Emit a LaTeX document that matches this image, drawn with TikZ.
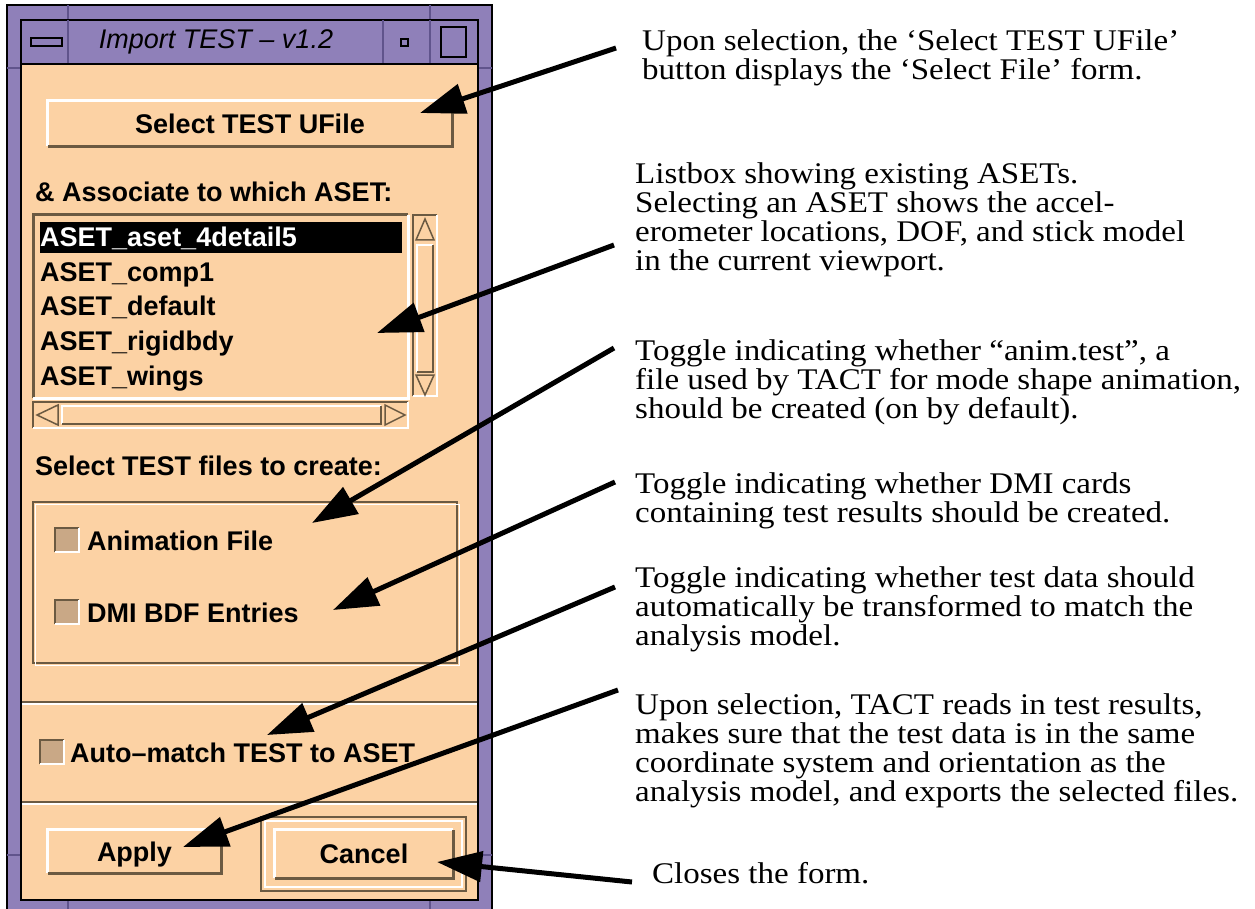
\documentclass[tikz,border=0pt]{standalone}
\usepackage{fontspec}
\setmainfont{Liberation Serif}
\newfontfamily\uifont{Liberation Sans}
\newfontfamily\notefont[FakeStretch=1.1]{Liberation Serif}
\usetikzlibrary{arrows.meta}
\definecolor{peach}{RGB}{252,210,164}
\definecolor{winframe}{RGB}{143,128,185}
\definecolor{frameline}{RGB}{96,84,140}
\definecolor{bevelDark}{RGB}{107,90,66}
\definecolor{boxfill}{RGB}{201,168,134}
\tikzset{
  uitext/.style={font=\uifont\bfseries\fontsize{27}{34}\selectfont, inner sep=0pt, anchor=base west},
  titletext/.style={font=\uifont\itshape\fontsize{27}{34}\selectfont, inner sep=0pt},
  button/.style={font=\uifont\bfseries\fontsize{27}{34}\selectfont, fill=peach, inner sep=0pt, text height=19.5pt, text depth=0pt},
  note/.style={font=\notefont\fontsize{30}{29}\selectfont, align=left, inner sep=0pt, anchor=north west},
  callout/.style={line width=5pt, -{Triangle[length=45pt,width=30pt]}},
}
\begin{document}
\begin{tikzpicture}[x=1pt,y=-1pt]
\useasboundingbox (0,0) rectangle (1255,909);
\fill[white] (0,0) rectangle (1255,909);
% window frame and title bar
\draw[line width=1.5pt, fill=winframe] (7,5) rectangle (492,918);
\draw[frameline, line width=1.5pt] (68,5) -- (68,20) (430,5) -- (430,20) (7,68) -- (21,68) (478,68) -- (492,68) (7,855) -- (21,855) (478,855) -- (492,855) (68,900) -- (68,918) (430,900) -- (430,918);
\draw[line width=1.5pt, fill=winframe] (21,20) rectangle (478,64);
\draw[frameline, line width=1.5pt] (68,20) -- (68,64) (383,20) -- (383,64) (430,20) -- (430,64);
\draw[line width=2pt, fill=winframe] (31,38) rectangle (62,46);
\draw[line width=2pt] (401,39) rectangle (408,46);
\draw[line width=2.5pt] (441,27) rectangle (466,57);
\node[titletext] (title) at (216,42) {Import TEST – v1.2};
\draw[line width=1.5pt, fill=peach] (21,64) rectangle (478,900);
% select button
\node[button, minimum width=404pt, minimum height=45pt] (selBtn) at (250,123.5) {Select TEST UFile};
\node[uitext] (assocLbl) at (35,202) {\& Associate to which ASET:};
% listbox
\draw[bevelDark, line width=3pt] (33,398) |- (408,215);
\draw[white, line width=3pt] (33,398) -| (408,215);
\fill[black] (40,222) rectangle (402,253);
\node[uitext, white] (row0) at (40,247) {ASET\_aset\_4detail5};
\foreach \name [count=\i] in {comp1,default,rigidbdy,wings}
  \node[uitext] (row\i) at (40,247+34.5*\i) {ASET\_\name};
\draw[bevelDark, line width=2pt] (413,396) |- (437,215);
\draw[white, line width=2pt] (413,396) -| (437,215);
\draw[bevelDark, line width=1.5pt, fill=peach] (416,240) -- (425,219) -- (434,240) -- cycle;
\draw[white, line width=2pt] (417,372) |- (433,245);
\draw[bevelDark, line width=2pt] (417,372) -| (433,245);
\draw[bevelDark, line width=1.5pt, fill=peach] (416,375) -- (434,375) -- (425,395) -- cycle;
\draw[bevelDark, line width=2pt] (33,428) |- (408,402);
\draw[white, line width=2pt] (33,428) -| (408,402);
\draw[bevelDark, line width=1.5pt, fill=peach] (58,405) -- (37,415) -- (58,425) -- cycle;
\draw[white, line width=2pt] (62,424) |- (381,406);
\draw[bevelDark, line width=2pt] (62,424) -| (381,406);
\draw[bevelDark, line width=1.5pt, fill=peach] (385,405) -- (405,415) -- (385,425) -- cycle;
% files group
\node[uitext] (filesLbl) at (35,475) {Select TEST files to create:};
\draw[bevelDark, line width=1.5pt] (33,502) rectangle (457,663);
\draw[white, line width=1.5pt] (35.5,504.5) rectangle (459.5,665.5);
\foreach \x/\y in {55/528, 55/600, 40/740} {
  \fill[boxfill] (\x,\y) rectangle ++(24,24);
  \draw[bevelDark, line width=2pt] (\x,\y+24) |- (\x+24,\y);
  \draw[white, line width=2pt] (\x,\y+24) -| (\x+24,\y);
}
\node[uitext] (animLbl) at (87,550) {Animation File};
\node[uitext] (dmiLbl) at (87,622) {DMI BDF Entries};
\foreach \y in {702,802} {
  \draw[bevelDark, line width=1.5pt] (22,\y) -- (477,\y);
  \draw[white, line width=1.5pt] (22,\y+2) -- (477,\y+2);
}
\node[uitext] (autoLbl) at (70,762) {Auto–match TEST to ASET};
% apply and cancel
\draw[bevelDark, line width=1.5pt] (261,817) rectangle (466,891);
\draw[white, line width=1.5pt] (265,821) rectangle (462,887);
\node[button, minimum width=173pt, minimum height=43pt] (applyBtn) at (134.5,851.5) {Apply};
\node[button, minimum width=178pt, minimum height=48pt] (cancelBtn) at (364,854) {Cancel};
\foreach \b in {selBtn,applyBtn,cancelBtn} {
  \draw[white, line width=3pt] (\b.south west) |- (\b.north east);
  \draw[bevelDark, line width=3pt] (\b.south west) -| (\b.north east);
}
% notes
\node[note] (noteSelect) at (642,29) {Upon selection, the ‘Select TEST UFile’\\button displays the ‘Select File’ form.};
\node[note] (noteList) at (635,162) {Listbox showing existing ASETs.\\Selecting an ASET shows the accel-\\erometer locations, DOF, and stick model\\in the current viewport.};
\node[note] (noteAnim) at (635,339) {Toggle indicating whether “anim.test”, a\\file used by TACT for mode shape animation,\\should be created (on by default).};
\node[note] (noteDMI) at (635,472) {Toggle indicating whether DMI cards\\containing test results should be created.};
\node[note] (noteAuto) at (635,566) {Toggle indicating whether test data should\\automatically be transformed to match the\\analysis model.};
\node[note] (noteApply) at (635,693) {Upon selection, TACT reads in test results,\\makes sure that the test data is in the same\\coordinate system and orientation as the\\analysis model, and exports the selected files.};
\node[note] (noteCancel) at (652,862) {Closes the form.};
% callout arrows
\coordinate (tailSelect) at (616,48);
\coordinate (tipSelect) at (420,113);
\coordinate (tailList) at (614,245);
\coordinate (tipList) at (377,333);
\coordinate (tailAnim) at (614,348);
\coordinate (tipAnim) at (312,523);
\coordinate (tailDMI) at (615,482);
\coordinate (tipDMI) at (333,610);
\coordinate (tailAuto) at (615,587);
\coordinate (tipAuto) at (267,735);
\coordinate (tailApply) at (618,690);
\coordinate (tipApply) at (183,847);
\coordinate (tailCancel) at (632,882);
\coordinate (tipCancel) at (437,862);
\draw[callout] (tailSelect) -- (tipSelect);
\draw[callout] (tailList) -- (tipList);
\draw[callout] (tailAnim) -- (tipAnim);
\draw[callout] (tailDMI) -- (tipDMI);
\draw[callout] (tailAuto) -- (tipAuto);
\draw[callout] (tailApply) -- (tipApply);
\draw[callout] (tailCancel) -- (tipCancel);
\end{tikzpicture}
\end{document}
